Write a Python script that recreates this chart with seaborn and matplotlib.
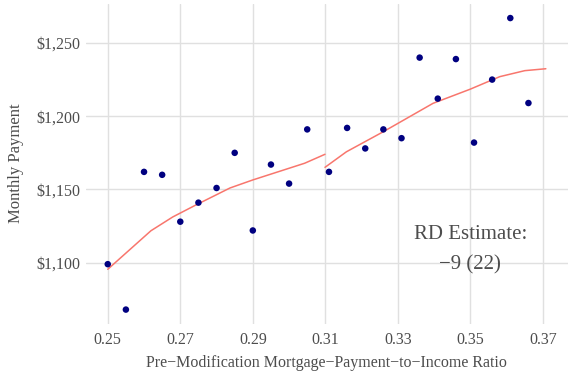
import numpy as np
import pandas as pd
import seaborn as sns
import matplotlib.pyplot as plt
from matplotlib.ticker import FuncFormatter

# binned means
bin_x = [0.250, 0.255, 0.260, 0.265, 0.270, 0.275, 0.280, 0.285, 0.290, 0.295, 0.300, 0.305,
         0.311, 0.316, 0.321, 0.326, 0.331, 0.336, 0.341, 0.346, 0.351, 0.356, 0.361, 0.366]
bin_y = [1099, 1068, 1162, 1160, 1128, 1141, 1151, 1175, 1122, 1167, 1154, 1191,
         1162, 1192, 1178, 1191, 1185, 1240, 1212, 1239, 1182, 1225, 1267, 1209]

# fitted lines on each side of the cutoff
left_x = [0.250, 0.2619, 0.2679, 0.2743, 0.2837, 0.2900, 0.3043, 0.3099]
left_y = [1095.5, 1121.8, 1131.2, 1139.4, 1151.0, 1156.5, 1167.9, 1174.0]
right_x = [0.3099, 0.3158, 0.3259, 0.3397, 0.3499, 0.3581, 0.3650, 0.3708]
right_y = [1165.1, 1175.7, 1189.3, 1208.8, 1218.4, 1227.0, 1231.1, 1232.4]

x_ticks = [0.25, 0.27, 0.29, 0.31, 0.33, 0.35, 0.37]
y_ticks = [1100, 1150, 1200, 1250]

pts = pd.DataFrame({'x': bin_x, 'y': bin_y})
lines = pd.concat([
    pd.DataFrame({'x': left_x, 'y': left_y, 'side': 'left'}),
    pd.DataFrame({'x': right_x, 'y': right_y, 'side': 'right'}),
])

sns.set_theme(style='whitegrid')
plt.rcParams['font.family'] = ['Liberation Serif', 'DejaVu Serif']
grid_col = '#e0e0e0'
txt_col = '#4d4d4d'

fig = plt.figure(figsize=(5.75, 3.73), dpi=100)
ax = fig.add_axes([86 / 575, 49.5 / 373, (567.6 - 86) / 575, (323.5 - 3.7) / 373])

sns.lineplot(data=lines, x='x', y='y', units='side', estimator=None,
             color='#f8766d', linewidth=1.1, ax=ax, sort=False)
sns.scatterplot(data=pts, x='x', y='y', color='#000080', s=22,
                edgecolor='none', ax=ax, zorder=3)

ax.set_xlim(0.2440, 0.3768)
ax.set_ylim(1058.5, 1276.8)
ax.set_xticks(x_ticks)
ax.set_xticklabels([f'{v:.2f}' for v in x_ticks])
ax.set_yticks(y_ticks)
ax.yaxis.set_major_formatter(FuncFormatter(lambda v, p: f'${v:,.0f}'))

for s in ax.spines.values():
    s.set_visible(False)
ax.grid(True, color=grid_col, linewidth=1.0)
ax.tick_params(axis='both', length=0, labelsize=11.5, labelcolor=txt_col)
ax.tick_params(axis='x', pad=6)
ax.tick_params(axis='y', pad=4)

ax.set_xlabel('Pre\u2212Modification Mortgage\u2212Payment\u2212to\u2212Income Ratio',
              fontsize=11.5, color=txt_col, labelpad=5)
ax.set_ylabel('Monthly Payment', fontsize=12, color=txt_col, labelpad=9)

ax.text(0.35, 1108.7, 'RD Estimate:\n\u22129 (22)', ha='center', va='center',
        fontsize=15, color=txt_col, linespacing=1.75)

fig.savefig('out.png', dpi=100)
